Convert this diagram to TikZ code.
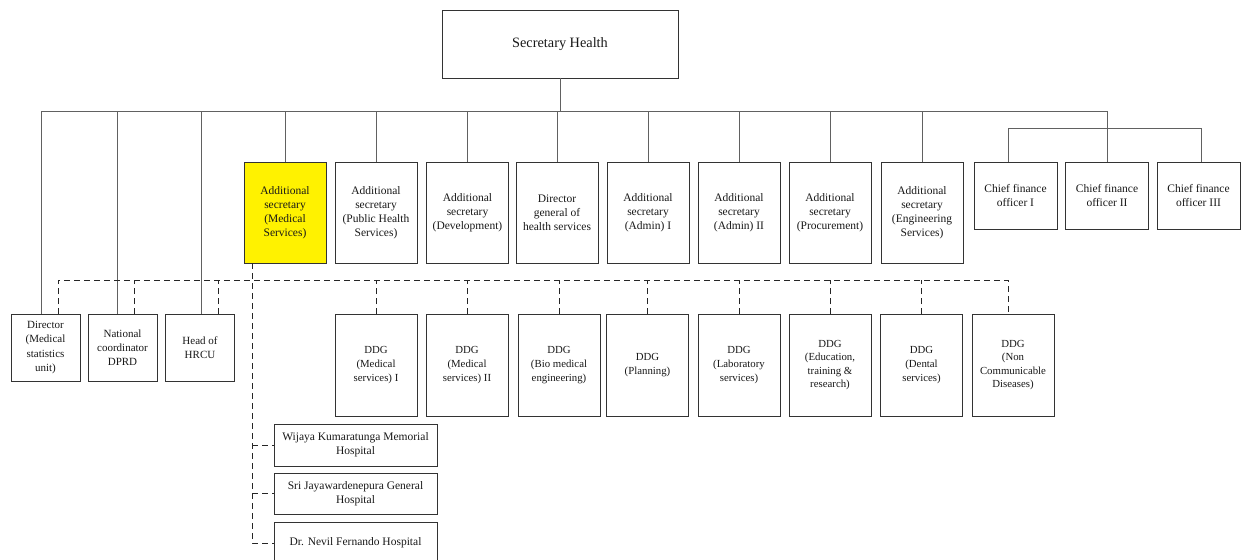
\documentclass[tikz,border=0pt]{standalone}
\usepackage{fontspec}
\setmainfont{Liberation Serif}
\begin{document}
\begin{tikzpicture}[x=1pt,y=-1pt,
  box/.style={draw=black!80, line width=0.9pt, fill=white, inner sep=1pt, outer sep=0pt, align=center, text=black!90, font=\fontsize{11.5}{14}\selectfont},
  topbox/.style={box, minimum width=82pt, minimum height=101pt},
  cfobox/.style={box, minimum width=83pt, minimum height=67pt},
  ddgbox/.style={box, minimum width=82pt, minimum height=102pt, font=\fontsize{10.8}{13.6}\selectfont},
  leftbox/.style={box, minimum width=69pt, minimum height=67pt, font=\fontsize{11}{14.3}\selectfont},
  hospbox/.style={box, minimum width=163pt, minimum height=42pt},
  conn/.style={draw=black!62, line width=1pt},
  dconn/.style={draw=black!85, line width=0.9pt, dash pattern=on 6pt off 4pt}]
\clip (0,0) rectangle (1241,559);
\fill[white] (0,0) rectangle (1241,559);

% coordinates for the buses
\coordinate (sbus) at (0,112);
\coordinate (cbus) at (0,128);
\coordinate (dbus) at (0,280);

% top
\node[box, minimum width=236pt, minimum height=68pt, font=\fontsize{14.3}{17}\selectfont] (sec) at (560,44) {Secretary Health};

% first row
\node[topbox, fill=yellow] (ms) at (285,212.5) {Additional\\secretary\\(Medical\\Services)};
\node[topbox] (ph) at (376,212.5) {Additional\\secretary\\(Public Health\\Services)};
\node[topbox] (dev) at (467.5,212.5) {Additional\\secretary\\(Development)};
\node[topbox] (dg) at (557,212.5) {Director\\general of\\health services};
\node[topbox] (ad1) at (648,212.5) {Additional\\secretary\\(Admin) I};
\node[topbox] (ad2) at (739,212.5) {Additional\\secretary\\(Admin) II};
\node[topbox] (proc) at (830,212.5) {Additional\\secretary\\(Procurement)};
\node[topbox] (eng) at (922,212.5) {Additional\\secretary\\(Engineering\\Services)};
\node[cfobox] (cfo1) at (1015.5,195.5) {Chief finance\\officer I};
\node[cfobox] (cfo2) at (1107,195.5) {Chief finance\\officer II};
\node[cfobox] (cfo3) at (1198.5,195.5) {Chief finance\\officer III};

% left boxes
\node[leftbox] (dir) at (45.5,347.5) {Director\\(Medical\\statistics\\unit)};
\node[leftbox] (nat) at (122.5,347.5) {National\\coordinator\\DPRD};
\node[leftbox] (hr) at (200,347.5) {Head of\\HRCU};

% DDG row
\node[ddgbox] (d1) at (376,365) {DDG\\(Medical\\services) I};
\node[ddgbox] (d2) at (467,365) {DDG\\(Medical\\services) II};
\node[ddgbox] (d3) at (559,365) {DDG\\(Bio medical\\engineering)};
\node[ddgbox] (d4) at (647.5,365) {DDG\\(Planning)};
\node[ddgbox] (d5) at (739,365) {DDG\\(Laboratory\\services)};
\node[ddgbox] (d6) at (830,365) {DDG\\(Education,\\training \&\\research)};
\node[ddgbox] (d7) at (921.5,365) {DDG\\(Dental\\services)};
\node[ddgbox] (d8) at (1013,365) {DDG\\(Non\\Communicable\\Diseases)};

% hospitals
\node[hospbox] (h1) at (355.5,445) {Wijaya Kumaratunga Memorial\\Hospital};
\node[hospbox, minimum height=41pt] (h2) at (355.5,493.5) {Sri Jayawardenepura General\\Hospital};
\node[hospbox] (h3) at (355.5,543) {Dr. Nevil Fernando Hospital};

% solid connectors
\draw[conn] (sec.south) -- (sec.south |- sbus);
\draw[conn] ([xshift=-4.5pt]dir.north) -- ([xshift=-4.5pt]dir.north |- sbus) -- (cfo2.north |- sbus) -- (cfo2.north);
\draw[conn] ([xshift=-5.5pt]nat.north) -- ([xshift=-5.5pt]nat.north |- sbus);
\draw[conn] ([xshift=1pt]hr.north) -- ([xshift=1pt]hr.north |- sbus);
\foreach \n in {ms,ph,dev,dg,ad1,ad2,proc,eng}
  \draw[conn] (\n.north) -- (\n.north |- sbus);
\draw[conn] ([xshift=-7pt]cfo1.north) -- ([xshift=-7pt]cfo1.north |- cbus) -- ([xshift=2.5pt]cfo3.north |- cbus) -- ([xshift=2.5pt]cfo3.north);

% dashed connectors
\draw[dconn] ([xshift=12.5pt]dir.north) -- ([xshift=12.5pt]dir.north |- dbus) -- ([xshift=-5pt]d8.north |- dbus) -- ([xshift=-5pt]d8.north);
\draw[dconn] ([xshift=11.5pt]nat.north) -- ([xshift=11.5pt]nat.north |- dbus);
\draw[dconn] ([xshift=18pt]hr.north) -- ([xshift=18pt]hr.north |- dbus);
\foreach \n in {d1,d2,d3,d4,d5,d6,d7}
  \draw[dconn] (\n.north) -- (\n.north |- dbus);
\draw[dconn] ([xshift=-33pt]ms.south) |- (h3.west);
\draw[dconn] ([xshift=-33pt]ms.south |- h1.west) -- (h1.west);
\draw[dconn] ([xshift=-33pt]ms.south |- h2.west) -- (h2.west);
\end{tikzpicture}
\end{document}
